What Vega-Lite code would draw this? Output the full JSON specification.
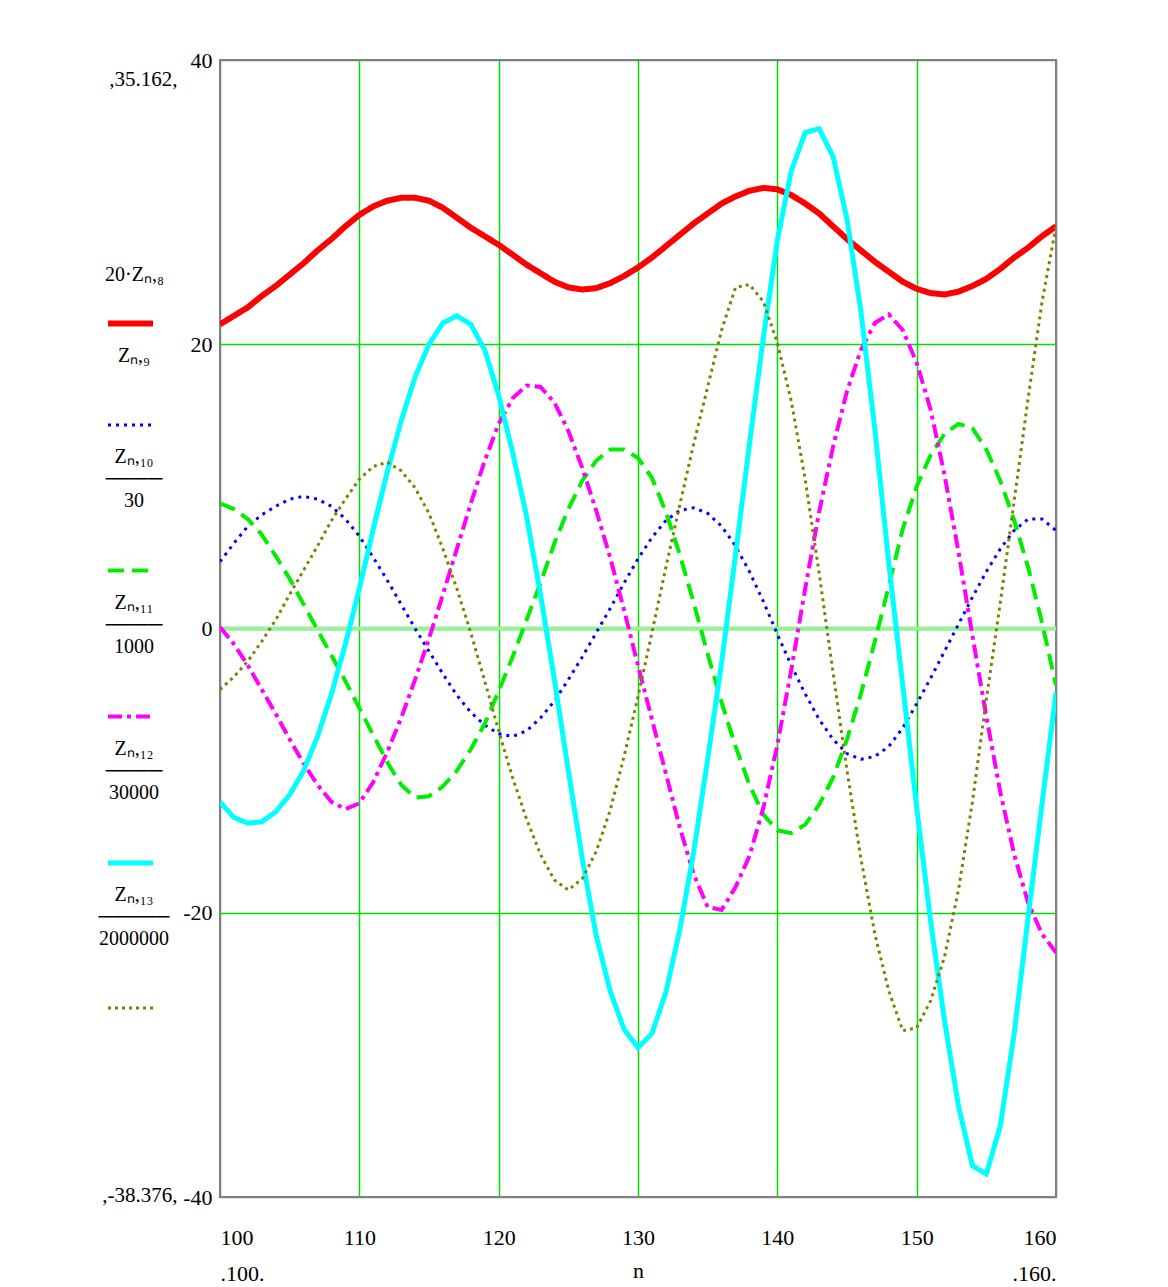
{
  "$schema": "https://vega.github.io/schema/vega-lite/v6.json",
  "width": 836,
  "height": 1137,
  "autosize": {"type": "none"},
  "padding": {"left": 220, "top": 60, "right": 112, "bottom": 90},
  "background": "white",
  "config": {
    "view": {"stroke": "#808080", "strokeWidth": 2},
    "font": "Liberation Serif",
    "axis": {"labelFont": "Liberation Serif", "labelFontSize": 22, "labelColor": "black", "ticks": false, "domain": false, "gridWidth": 1.5, "gridOpacity": 1, "titleFont": "Liberation Serif", "titleFontWeight": "normal", "titleColor": "black"}
  },
  "data": {"values": [
    {"n":100,"s":"Z8","v":21.4},{"n":101,"s":"Z8","v":22.0},{"n":102,"s":"Z8","v":22.6},{"n":103,"s":"Z8","v":23.4},{"n":104,"s":"Z8","v":24.1},{"n":105,"s":"Z8","v":24.9},{"n":106,"s":"Z8","v":25.7},{"n":107,"s":"Z8","v":26.6},{"n":108,"s":"Z8","v":27.4},{"n":109,"s":"Z8","v":28.3},{"n":110,"s":"Z8","v":29.1},{"n":111,"s":"Z8","v":29.7},{"n":112,"s":"Z8","v":30.1},{"n":113,"s":"Z8","v":30.3},{"n":114,"s":"Z8","v":30.3},{"n":115,"s":"Z8","v":30.1},{"n":116,"s":"Z8","v":29.6},{"n":117,"s":"Z8","v":28.9},{"n":118,"s":"Z8","v":28.2},{"n":119,"s":"Z8","v":27.6},{"n":120,"s":"Z8","v":27.0},{"n":121,"s":"Z8","v":26.3},{"n":122,"s":"Z8","v":25.6},{"n":123,"s":"Z8","v":25.0},{"n":124,"s":"Z8","v":24.4},{"n":125,"s":"Z8","v":24.0},{"n":126,"s":"Z8","v":23.85},{"n":127,"s":"Z8","v":23.95},{"n":128,"s":"Z8","v":24.3},{"n":129,"s":"Z8","v":24.8},{"n":130,"s":"Z8","v":25.4},{"n":131,"s":"Z8","v":26.1},{"n":132,"s":"Z8","v":26.9},{"n":133,"s":"Z8","v":27.7},{"n":134,"s":"Z8","v":28.5},{"n":135,"s":"Z8","v":29.2},{"n":136,"s":"Z8","v":29.9},{"n":137,"s":"Z8","v":30.4},{"n":138,"s":"Z8","v":30.8},{"n":139,"s":"Z8","v":31.0},{"n":140,"s":"Z8","v":30.9},{"n":141,"s":"Z8","v":30.5},{"n":142,"s":"Z8","v":29.9},{"n":143,"s":"Z8","v":29.2},{"n":144,"s":"Z8","v":28.3},{"n":145,"s":"Z8","v":27.4},{"n":146,"s":"Z8","v":26.6},{"n":147,"s":"Z8","v":25.8},{"n":148,"s":"Z8","v":25.1},{"n":149,"s":"Z8","v":24.4},{"n":150,"s":"Z8","v":23.9},{"n":151,"s":"Z8","v":23.6},{"n":152,"s":"Z8","v":23.5},{"n":153,"s":"Z8","v":23.7},{"n":154,"s":"Z8","v":24.1},{"n":155,"s":"Z8","v":24.6},{"n":156,"s":"Z8","v":25.3},{"n":157,"s":"Z8","v":26.1},{"n":158,"s":"Z8","v":26.8},{"n":159,"s":"Z8","v":27.6},{"n":160,"s":"Z8","v":28.3},
    {"n":100,"s":"Z9","v":4.7},{"n":101,"s":"Z9","v":6.0},{"n":102,"s":"Z9","v":7.2},{"n":103,"s":"Z9","v":8.0},{"n":104,"s":"Z9","v":8.6},{"n":105,"s":"Z9","v":9.1},{"n":106,"s":"Z9","v":9.3},{"n":107,"s":"Z9","v":9.1},{"n":108,"s":"Z9","v":8.6},{"n":109,"s":"Z9","v":7.7},{"n":110,"s":"Z9","v":6.5},{"n":111,"s":"Z9","v":5.0},{"n":112,"s":"Z9","v":3.4},{"n":113,"s":"Z9","v":1.7},{"n":114,"s":"Z9","v":0.0},{"n":115,"s":"Z9","v":-1.6},{"n":116,"s":"Z9","v":-3.2},{"n":117,"s":"Z9","v":-4.7},{"n":118,"s":"Z9","v":-5.9},{"n":119,"s":"Z9","v":-6.8},{"n":120,"s":"Z9","v":-7.4},{"n":121,"s":"Z9","v":-7.6},{"n":122,"s":"Z9","v":-7.2},{"n":123,"s":"Z9","v":-6.3},{"n":124,"s":"Z9","v":-5.1},{"n":125,"s":"Z9","v":-3.6},{"n":126,"s":"Z9","v":-2.0},{"n":127,"s":"Z9","v":-0.3},{"n":128,"s":"Z9","v":1.4},{"n":129,"s":"Z9","v":3.2},{"n":130,"s":"Z9","v":4.9},{"n":131,"s":"Z9","v":6.4},{"n":132,"s":"Z9","v":7.6},{"n":133,"s":"Z9","v":8.3},{"n":134,"s":"Z9","v":8.5},{"n":135,"s":"Z9","v":8.1},{"n":136,"s":"Z9","v":7.2},{"n":137,"s":"Z9","v":5.8},{"n":138,"s":"Z9","v":4.0},{"n":139,"s":"Z9","v":1.9},{"n":140,"s":"Z9","v":-0.4},{"n":141,"s":"Z9","v":-2.6},{"n":142,"s":"Z9","v":-4.6},{"n":143,"s":"Z9","v":-6.4},{"n":144,"s":"Z9","v":-7.8},{"n":145,"s":"Z9","v":-8.8},{"n":146,"s":"Z9","v":-9.2},{"n":147,"s":"Z9","v":-9.0},{"n":148,"s":"Z9","v":-8.3},{"n":149,"s":"Z9","v":-7.0},{"n":150,"s":"Z9","v":-5.3},{"n":151,"s":"Z9","v":-3.5},{"n":152,"s":"Z9","v":-1.6},{"n":153,"s":"Z9","v":0.3},{"n":154,"s":"Z9","v":2.2},{"n":155,"s":"Z9","v":4.0},{"n":156,"s":"Z9","v":5.6},{"n":157,"s":"Z9","v":6.9},{"n":158,"s":"Z9","v":7.7},{"n":159,"s":"Z9","v":7.7},{"n":160,"s":"Z9","v":6.9},
    {"n":100,"s":"Z10","v":8.8},{"n":101,"s":"Z10","v":8.4},{"n":102,"s":"Z10","v":7.7},{"n":103,"s":"Z10","v":6.6},{"n":104,"s":"Z10","v":5.1},{"n":105,"s":"Z10","v":3.5},{"n":106,"s":"Z10","v":1.7},{"n":107,"s":"Z10","v":-0.1},{"n":108,"s":"Z10","v":-1.9},{"n":109,"s":"Z10","v":-3.7},{"n":110,"s":"Z10","v":-5.6},{"n":111,"s":"Z10","v":-7.5},{"n":112,"s":"Z10","v":-9.4},{"n":113,"s":"Z10","v":-11.0},{"n":114,"s":"Z10","v":-11.9},{"n":115,"s":"Z10","v":-11.8},{"n":116,"s":"Z10","v":-11.1},{"n":117,"s":"Z10","v":-10.0},{"n":118,"s":"Z10","v":-8.5},{"n":119,"s":"Z10","v":-6.7},{"n":120,"s":"Z10","v":-4.4},{"n":121,"s":"Z10","v":-2.0},{"n":122,"s":"Z10","v":0.6},{"n":123,"s":"Z10","v":3.2},{"n":124,"s":"Z10","v":6.0},{"n":125,"s":"Z10","v":8.4},{"n":126,"s":"Z10","v":10.4},{"n":127,"s":"Z10","v":11.8},{"n":128,"s":"Z10","v":12.6},{"n":129,"s":"Z10","v":12.6},{"n":130,"s":"Z10","v":12.0},{"n":131,"s":"Z10","v":10.6},{"n":132,"s":"Z10","v":8.2},{"n":133,"s":"Z10","v":5.2},{"n":134,"s":"Z10","v":1.8},{"n":135,"s":"Z10","v":-1.8},{"n":136,"s":"Z10","v":-5.2},{"n":137,"s":"Z10","v":-8.3},{"n":138,"s":"Z10","v":-11.0},{"n":139,"s":"Z10","v":-13.1},{"n":140,"s":"Z10","v":-14.2},{"n":141,"s":"Z10","v":-14.4},{"n":142,"s":"Z10","v":-13.8},{"n":143,"s":"Z10","v":-12.4},{"n":144,"s":"Z10","v":-10.5},{"n":145,"s":"Z10","v":-7.8},{"n":146,"s":"Z10","v":-4.6},{"n":147,"s":"Z10","v":-0.9},{"n":148,"s":"Z10","v":3.0},{"n":149,"s":"Z10","v":7.0},{"n":150,"s":"Z10","v":10.0},{"n":151,"s":"Z10","v":12.2},{"n":152,"s":"Z10","v":13.7},{"n":153,"s":"Z10","v":14.4},{"n":154,"s":"Z10","v":14.1},{"n":155,"s":"Z10","v":12.6},{"n":156,"s":"Z10","v":10.4},{"n":157,"s":"Z10","v":7.6},{"n":158,"s":"Z10","v":4.3},{"n":159,"s":"Z10","v":0.4},{"n":160,"s":"Z10","v":-4.0},
    {"n":100,"s":"Z11","v":0.1},{"n":101,"s":"Z11","v":-1.1},{"n":102,"s":"Z11","v":-2.6},{"n":103,"s":"Z11","v":-4.3},{"n":104,"s":"Z11","v":-6.0},{"n":105,"s":"Z11","v":-7.8},{"n":106,"s":"Z11","v":-9.5},{"n":107,"s":"Z11","v":-11.0},{"n":108,"s":"Z11","v":-12.2},{"n":109,"s":"Z11","v":-12.7},{"n":110,"s":"Z11","v":-12.3},{"n":111,"s":"Z11","v":-10.8},{"n":112,"s":"Z11","v":-8.7},{"n":113,"s":"Z11","v":-6.3},{"n":114,"s":"Z11","v":-3.6},{"n":115,"s":"Z11","v":-0.7},{"n":116,"s":"Z11","v":2.4},{"n":117,"s":"Z11","v":5.6},{"n":118,"s":"Z11","v":8.8},{"n":119,"s":"Z11","v":11.8},{"n":120,"s":"Z11","v":14.4},{"n":121,"s":"Z11","v":16.2},{"n":122,"s":"Z11","v":17.1},{"n":123,"s":"Z11","v":17.0},{"n":124,"s":"Z11","v":15.9},{"n":125,"s":"Z11","v":13.9},{"n":126,"s":"Z11","v":11.3},{"n":127,"s":"Z11","v":8.3},{"n":128,"s":"Z11","v":5.0},{"n":129,"s":"Z11","v":1.3},{"n":130,"s":"Z11","v":-2.6},{"n":131,"s":"Z11","v":-6.4},{"n":132,"s":"Z11","v":-10.2},{"n":133,"s":"Z11","v":-14.0},{"n":134,"s":"Z11","v":-17.3},{"n":135,"s":"Z11","v":-19.6},{"n":136,"s":"Z11","v":-19.8},{"n":137,"s":"Z11","v":-18.2},{"n":138,"s":"Z11","v":-16.0},{"n":139,"s":"Z11","v":-12.6},{"n":140,"s":"Z11","v":-8.2},{"n":141,"s":"Z11","v":-2.9},{"n":142,"s":"Z11","v":2.8},{"n":143,"s":"Z11","v":8.2},{"n":144,"s":"Z11","v":12.8},{"n":145,"s":"Z11","v":16.7},{"n":146,"s":"Z11","v":19.6},{"n":147,"s":"Z11","v":21.5},{"n":148,"s":"Z11","v":22.1},{"n":149,"s":"Z11","v":21.0},{"n":150,"s":"Z11","v":18.7},{"n":151,"s":"Z11","v":15.4},{"n":152,"s":"Z11","v":10.8},{"n":153,"s":"Z11","v":5.4},{"n":154,"s":"Z11","v":-0.5},{"n":155,"s":"Z11","v":-6.2},{"n":156,"s":"Z11","v":-11.5},{"n":157,"s":"Z11","v":-15.9},{"n":158,"s":"Z11","v":-19.3},{"n":159,"s":"Z11","v":-21.5},{"n":160,"s":"Z11","v":-22.8},
    {"n":100,"s":"Z12","v":-12.2},{"n":101,"s":"Z12","v":-13.3},{"n":102,"s":"Z12","v":-13.7},{"n":103,"s":"Z12","v":-13.6},{"n":104,"s":"Z12","v":-12.9},{"n":105,"s":"Z12","v":-11.7},{"n":106,"s":"Z12","v":-10.0},{"n":107,"s":"Z12","v":-7.6},{"n":108,"s":"Z12","v":-4.6},{"n":109,"s":"Z12","v":-1.1},{"n":110,"s":"Z12","v":2.8},{"n":111,"s":"Z12","v":7.0},{"n":112,"s":"Z12","v":11.0},{"n":113,"s":"Z12","v":14.6},{"n":114,"s":"Z12","v":17.7},{"n":115,"s":"Z12","v":20.0},{"n":116,"s":"Z12","v":21.5},{"n":117,"s":"Z12","v":22.0},{"n":118,"s":"Z12","v":21.4},{"n":119,"s":"Z12","v":19.6},{"n":120,"s":"Z12","v":16.4},{"n":121,"s":"Z12","v":12.4},{"n":122,"s":"Z12","v":7.9},{"n":123,"s":"Z12","v":2.4},{"n":124,"s":"Z12","v":-3.6},{"n":125,"s":"Z12","v":-10.0},{"n":126,"s":"Z12","v":-16.2},{"n":127,"s":"Z12","v":-21.6},{"n":128,"s":"Z12","v":-25.5},{"n":129,"s":"Z12","v":-28.2},{"n":130,"s":"Z12","v":-29.5},{"n":131,"s":"Z12","v":-28.5},{"n":132,"s":"Z12","v":-25.6},{"n":133,"s":"Z12","v":-21.2},{"n":134,"s":"Z12","v":-15.7},{"n":135,"s":"Z12","v":-9.2},{"n":136,"s":"Z12","v":-2.4},{"n":137,"s":"Z12","v":5.2},{"n":138,"s":"Z12","v":13.0},{"n":139,"s":"Z12","v":20.5},{"n":140,"s":"Z12","v":27.3},{"n":141,"s":"Z12","v":32.2},{"n":142,"s":"Z12","v":34.9},{"n":143,"s":"Z12","v":35.162},{"n":144,"s":"Z12","v":33.2},{"n":145,"s":"Z12","v":28.8},{"n":146,"s":"Z12","v":22.3},{"n":147,"s":"Z12","v":14.0},{"n":148,"s":"Z12","v":4.6},{"n":149,"s":"Z12","v":-4.0},{"n":150,"s":"Z12","v":-12.6},{"n":151,"s":"Z12","v":-20.6},{"n":152,"s":"Z12","v":-27.6},{"n":153,"s":"Z12","v":-33.6},{"n":154,"s":"Z12","v":-37.8},{"n":155,"s":"Z12","v":-38.376},{"n":156,"s":"Z12","v":-35.0},{"n":157,"s":"Z12","v":-28.5},{"n":158,"s":"Z12","v":-20.3},{"n":159,"s":"Z12","v":-12.3},{"n":160,"s":"Z12","v":-4.5},
    {"n":100,"s":"Z13","v":-4.3},{"n":101,"s":"Z13","v":-3.4},{"n":102,"s":"Z13","v":-2.3},{"n":103,"s":"Z13","v":-0.9},{"n":104,"s":"Z13","v":0.6},{"n":105,"s":"Z13","v":2.4},{"n":106,"s":"Z13","v":4.1},{"n":107,"s":"Z13","v":5.8},{"n":108,"s":"Z13","v":7.6},{"n":109,"s":"Z13","v":9.1},{"n":110,"s":"Z13","v":10.5},{"n":111,"s":"Z13","v":11.4},{"n":112,"s":"Z13","v":11.7},{"n":113,"s":"Z13","v":11.1},{"n":114,"s":"Z13","v":9.9},{"n":115,"s":"Z13","v":8.1},{"n":116,"s":"Z13","v":5.6},{"n":117,"s":"Z13","v":2.8},{"n":118,"s":"Z13","v":-0.3},{"n":119,"s":"Z13","v":-3.7},{"n":120,"s":"Z13","v":-7.2},{"n":121,"s":"Z13","v":-10.5},{"n":122,"s":"Z13","v":-13.4},{"n":123,"s":"Z13","v":-15.9},{"n":124,"s":"Z13","v":-17.7},{"n":125,"s":"Z13","v":-18.4},{"n":126,"s":"Z13","v":-17.6},{"n":127,"s":"Z13","v":-15.7},{"n":128,"s":"Z13","v":-12.8},{"n":129,"s":"Z13","v":-9.0},{"n":130,"s":"Z13","v":-4.8},{"n":131,"s":"Z13","v":-0.3},{"n":132,"s":"Z13","v":4.3},{"n":133,"s":"Z13","v":8.7},{"n":134,"s":"Z13","v":13.0},{"n":135,"s":"Z13","v":17.0},{"n":136,"s":"Z13","v":21.0},{"n":137,"s":"Z13","v":24.0},{"n":138,"s":"Z13","v":24.2},{"n":139,"s":"Z13","v":23.0},{"n":140,"s":"Z13","v":20.1},{"n":141,"s":"Z13","v":16.0},{"n":142,"s":"Z13","v":10.5},{"n":143,"s":"Z13","v":3.9},{"n":144,"s":"Z13","v":-3.1},{"n":145,"s":"Z13","v":-10.0},{"n":146,"s":"Z13","v":-16.2},{"n":147,"s":"Z13","v":-21.5},{"n":148,"s":"Z13","v":-25.5},{"n":149,"s":"Z13","v":-28.3},{"n":150,"s":"Z13","v":-28.1},{"n":151,"s":"Z13","v":-26.2},{"n":152,"s":"Z13","v":-23.1},{"n":153,"s":"Z13","v":-18.4},{"n":154,"s":"Z13","v":-12.2},{"n":155,"s":"Z13","v":-5.0},{"n":156,"s":"Z13","v":1.8},{"n":157,"s":"Z13","v":9.0},{"n":158,"s":"Z13","v":16.2},{"n":159,"s":"Z13","v":23.0},{"n":160,"s":"Z13","v":28.3}
  ]},
  "layer": [
    {
      "data": {"values": [{}]},
      "mark": {"type": "rule", "color": "#9af09a", "strokeWidth": 4},
      "encoding": {
        "y": {"datum": 0, "type": "quantitative", "axis": {"values": [40, -40], "orient": "left", "labelExpr": "datum.value > 0 ? ',35.162,' : ',-38.376,'", "labelPadding": 43, "labelFontSize": 21, "labelFlush": true, "labelOffset": 8, "grid": false, "title": null}}
      }
    },
    {
      "mark": {"type": "line", "clip": true},
      "encoding": {
        "x": {"field": "n", "type": "quantitative", "scale": {"domain": [100, 160], "nice": false, "zero": false},
              "axis": {"values": [100, 110, 120, 130, 140, 150, 160], "grid": true,
                       "gridColor": {"condition": {"test": "datum.value == 100 || datum.value == 160", "value": "#808080"}, "value": "#00e000"},
                       "labelPadding": 30, "labelBaseline": "top", "labelLineHeight": 36,
                       "labelExpr": "datum.value == 100 ? ['100', '.100.'] : datum.value == 160 ? ['160', '.160.'] : datum.label",
                       "title": "n", "titleFontSize": 22, "titleY": 63, "titleBaseline": "top"}},
        "y": {"field": "v", "type": "quantitative", "scale": {"domain": [-40, 40], "nice": false, "zero": false},
              "axis": {"orient": "left", "values": [40, 20, 0, -20, -40], "grid": true,
                       "gridColor": {"condition": {"test": "datum.value == 40 || datum.value == -40", "value": "#808080"}, "value": "#00e000"},
                       "labelPadding": 8, "labelBaseline": "middle", "labelExpr": "datum.value + ''", "title": null}},
        "color": {"field": "s", "type": "nominal",
                  "scale": {"domain": ["Z8", "Z9", "Z10", "Z11", "Z12", "Z13"], "range": ["#ff0000", "#0000ff", "#00ee00", "#ff00ff", "#00ffff", "#808000"]},
                  "legend": {"orient": "none", "legendX": -115, "legendY": 205, "padding": 0,
                             "title": "20·Zₙ,₈", "titleFont": "Liberation Serif", "titleFontSize": 20, "titleFontWeight": "normal", "titleColor": "black", "titlePadding": 13,
                             "symbolType": "stroke", "symbolSize": 2025, "symbolStrokeWidth": 4,
                             "labelFont": "Liberation Serif", "labelFontSize": 20, "labelColor": "black", "labelLineHeight": 24, "labelBaseline": "top", "labelAlign": "center", "labelOffset": -22, "rowPadding": 13, "labelLimit": 400,
                             "labelExpr": "datum.value == 'Z8' ? ['\u00a0', 'Zₙ,₉', '\u00a0'] : datum.value == 'Z9' ? ['\u00a0', '\u00a0', 'Zₙ,₁₀', '────', '30'] : datum.value == 'Z10' ? ['\u00a0', '\u00a0', 'Zₙ,₁₁', '────', '1000'] : datum.value == 'Z11' ? ['\u00a0', '\u00a0', 'Zₙ,₁₂', '────', '30000'] : datum.value == 'Z12' ? ['\u00a0', '\u00a0', 'Zₙ,₁₃', '─────', '2000000'] : '\u00a0'"}},
        "strokeDash": {"field": "s", "type": "nominal",
                       "scale": {"domain": ["Z8", "Z9", "Z10", "Z11", "Z12", "Z13"], "range": [[1, 0], [3, 5], [16, 8], [14, 5, 4, 5], [1, 0], [3, 4]]}},
        "strokeWidth": {"field": "s", "type": "nominal",
                        "scale": {"type": "ordinal", "domain": ["Z8", "Z9", "Z10", "Z11", "Z12", "Z13"], "range": [6, 3, 4, 4, 5, 3]}, "legend": null}
      }
    }
  ],
  "resolve": {"axis": {"y": "independent"}}
}
